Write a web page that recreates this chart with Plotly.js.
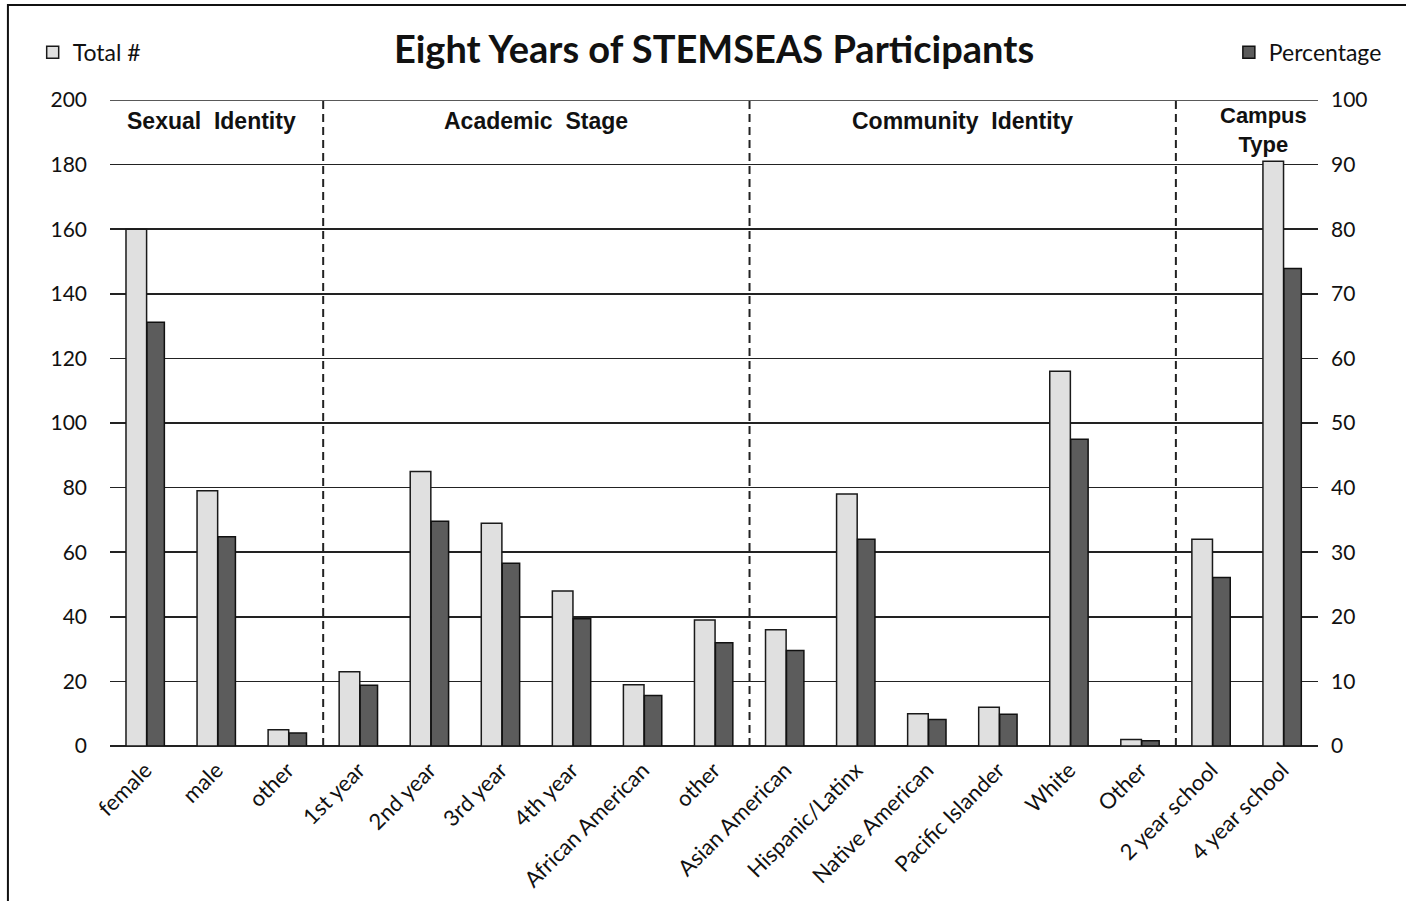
<!DOCTYPE html>
<html>
<head>
<meta charset="utf-8">
<script src="https://cdn.plot.ly/plotly-3.0.1.min.js"></script>
<style>html,body{margin:0;padding:0;background:#fff;}#chart{width:1406px;height:901px;}</style>
</head>
<body>
<div id="chart"></div>
<script>
const categories = ['female','male','other','1st year','2nd year','3rd year','4th year','African American','other','Asian American','Hispanic/Latinx','Native American','Pacific Islander','White','Other','2 year school','4 year school'];
const totals = [160,79,5,23,85,69,48,19,39,36,78,10,12,116,2,64,181];
const percentages = [65.6,32.4,2.0,9.4,34.8,28.3,19.7,7.8,16.0,14.8,32.0,4.1,4.9,47.5,0.8,26.1,73.9];
const groupNames = ['Sexual  Identity','Academic  Stage','Community  Identity','Campus<br>Type'];
const groupSizes = [3,6,6,2];
const leftTicks = [0,20,40,60,80,100,120,140,160,180,200];
const rightTicks = [0,10,20,30,40,50,60,70,80,90,100];

const xs = categories.map((_, i) => i);
const baseFont = 'Lato, "Open Sans", sans-serif';
const yTickFont = {family: baseFont, size: 21, color: '#111'};
const xTickFont = {family: baseFont, size: 22, color: '#111'};
const legendFont = {family: baseFont, size: 23, color: '#111'};

const traces = [
  {type: 'bar', name: 'Total #', x: xs, y: totals, yaxis: 'y', legend: 'legend',
   offset: -0.275, width: 0.29,
   marker: {color: '#e0e0e0', line: {color: '#1a1a1a', width: 1.5}}},
  {type: 'bar', name: 'Percentage', x: xs, y: percentages, yaxis: 'y2', legend: 'legend2',
   offset: 0.02, width: 0.245,
   marker: {color: '#5c5c5c', line: {color: '#111', width: 1.5}}}
];

const shapes = [];
const annotations = [];
const labelShift = [-5, 0, 0, 17];
let start = 0;
groupSizes.forEach((n, gi) => {
  const end = start + n;
  const last = gi === groupSizes.length - 1;
  annotations.push({
    xref: 'x', yref: 'paper', x: (start + end - 1) / 2, y: 1,
    xanchor: 'center', yanchor: 'top', yshift: last ? -1 : -6,
    xshift: labelShift[gi],
    text: '<b>' + groupNames[gi] + '</b>', showarrow: false,
    font: {family: '"Liberation Sans", Arial, sans-serif', size: last ? 22 : 23, color: '#111'}
  });
  if (!last) {
    shapes.push({type: 'line', xref: 'x', yref: 'paper', x0: end - 0.5, x1: end - 0.5, y0: 0, y1: 1,
      line: {color: '#222', width: 2, dash: '8px,5px'}});
  }
  start = end;
});
// top gridline at 200
shapes.push({type: 'line', xref: 'paper', yref: 'y', x0: 0, x1: 1, y0: 200, y1: 200,
  line: {color: '#222', width: 1.5}});
// figure frame
shapes.push({type: 'rect', xref: 'paper', yref: 'paper', x0: -0.0845, x1: 1.2, y0: -0.5, y1: 1.147,
  line: {color: '#111', width: 2}, fillcolor: 'rgba(0,0,0,0)', layer: 'below'});

const layout = {
  width: 1406, height: 901,
  margin: {l: 110, r: 88, t: 100, b: 155},
  paper_bgcolor: '#fff', plot_bgcolor: '#fff',
  title: {text: '<b>Eight Years of STEMSEAS Participants</b>', x: 0.5, xref: 'paper', xanchor: 'center',
    y: 49, yref: 'container', yanchor: 'middle',
    font: {family: baseFont, size: 38, color: '#111'}},
  barmode: 'overlay',
  showlegend: true,
  legend: {x: -0.064, xanchor: 'left', y: 1.074, yanchor: 'middle', orientation: 'h',
    font: legendFont, bgcolor: 'rgba(0,0,0,0)'},
  legend2: {x: 1.057, xanchor: 'right', y: 1.074, yanchor: 'middle', orientation: 'h',
    font: legendFont, bgcolor: 'rgba(0,0,0,0)'},
  xaxis: {range: [-0.5, 16.5], tickvals: xs, ticktext: categories, tickangle: -45,
    tickfont: xTickFont, showgrid: false, zeroline: false, showline: false, ticks: '',
    ticklabelstandoff: 6, fixedrange: true},
  yaxis: {range: [0, 200], tickvals: leftTicks, tickfont: yTickFont, showgrid: true,
    gridcolor: '#222', gridwidth: 1.5, zeroline: true, zerolinecolor: '#222', zerolinewidth: 1.5,
    showline: false, ticks: '', ticklabelstandoff: 22},
  yaxis2: {range: [0, 100], tickvals: rightTicks, tickfont: yTickFont, overlaying: 'y', side: 'right',
    showgrid: false, zeroline: false, showline: false, ticks: '', ticklabelstandoff: 12},
  shapes: shapes,
  annotations: annotations
};

Plotly.newPlot('chart', traces, layout, {displayModeBar: false, staticPlot: true});
</script>
</body>
</html>
